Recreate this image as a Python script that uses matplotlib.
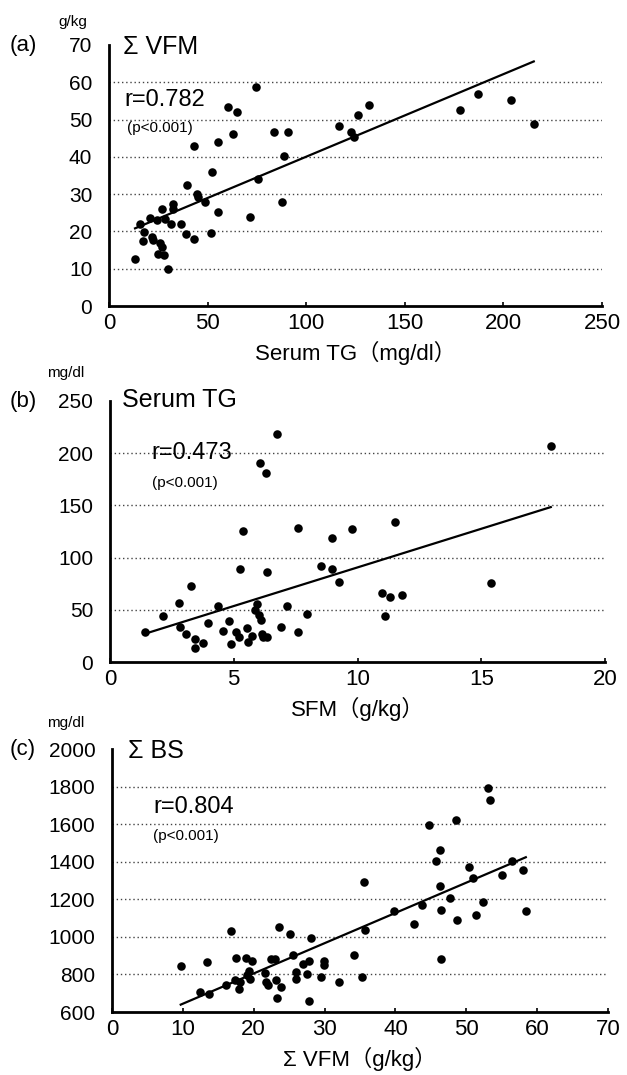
import numpy as np
import matplotlib.pyplot as plt

plt.rcParams['font.family'] = ['Liberation Sans', 'Noto Sans CJK JP', 'DejaVu Sans']

# (a) serum TG vs sum VFM
a_tg = [13.2, 15.7, 17.0, 17.7, 20.7, 21.7, 22.4, 24.2, 24.8, 25.8, 26.8, 26.8, 27.8, 28.3,
        29.9, 31.5, 32.3, 32.3, 36.4, 39.0, 39.6, 42.9, 43.0, 44.7, 45.2, 48.6, 51.6, 52.4,
        55.5, 55.5, 60.4, 62.8, 64.8, 71.5, 74.4, 75.4, 83.9, 87.6, 88.8, 90.7, 116.5,
        122.6, 124.2, 126.4, 131.9, 178.0, 187.0, 204.0, 215.4]
a_vfm = [12.5, 21.9, 17.5, 19.8, 23.7, 18.6, 17.7, 23.0, 14.0, 16.8, 26.0, 15.9, 13.6, 23.4,
         9.9, 22.1, 27.4, 26.0, 22.1, 19.2, 32.4, 42.8, 18.0, 30.0, 29.2, 27.8, 19.6, 35.9,
         25.3, 44.1, 53.5, 46.1, 51.9, 23.9, 58.7, 34.1, 46.7, 27.8, 40.1, 46.8, 48.2,
         46.8, 45.2, 51.3, 54.0, 52.6, 56.9, 55.2, 48.9]
a_fit = (0.2214, 17.9)

# (b) SFM vs serum TG
b_sfm = [1.42, 2.13, 2.80, 2.84, 3.08, 3.27, 3.42, 3.42, 3.76, 3.95, 4.37, 4.58, 4.82, 4.90,
         5.08, 5.23, 5.24, 5.37, 5.53, 5.56, 5.74, 5.85, 5.92, 6.03, 6.08, 6.10, 6.13, 6.19,
         6.29, 6.34, 6.35, 6.76, 6.92, 7.16, 7.60, 7.61, 7.97, 8.52, 8.97, 8.98, 9.27, 9.77,
         11.00, 11.13, 11.31, 11.53, 11.81, 15.39, 17.81]
b_tg = [29, 43.6, 56.4, 33.4, 26.4, 72.6, 22.3, 13.4, 17.8, 37.6, 53.2, 29.3, 39.5, 16.9,
        28.3, 23.6, 88.9, 125.2, 32.8, 18.8, 25.2, 50.0, 56.0, 44.9, 190.8, 40.1, 26.4, 24.2,
        181.2, 24.2, 86.3, 218.8, 33.8, 53.8, 128.3, 29.0, 45.5, 92.4, 119.1, 89.5, 76.8, 127.1,
        66.2, 43.6, 61.8, 134.4, 64.0, 75.8, 207.3]
b_fit = (7.40, 16.6)

# (c) sum VFM vs sum BS
c_vfm = [9.7, 12.4, 13.4, 13.7, 16.1, 16.8, 17.4, 17.5, 17.9, 18.0, 18.9, 19.1, 19.3, 19.5,
         19.7, 21.6, 21.7, 22.0, 22.4, 23.0, 23.1, 23.3, 23.5, 23.9, 25.1, 25.6, 25.9, 26.0,
         27.0, 27.5, 27.8, 27.8, 28.1, 29.5, 29.9, 29.9, 32.1, 34.1, 35.3, 35.6, 35.7, 39.8,
         42.6, 43.7, 44.7, 45.7, 46.3, 46.3, 46.4, 46.4, 47.7, 48.5, 48.7, 50.4, 50.9, 51.4,
         52.4, 53.0, 53.4, 55.1, 56.5, 58.0, 58.4]
c_bs = [846, 704, 864, 696, 743, 1030, 768, 885, 724, 758, 890, 795, 819, 775,
        873, 807, 759, 743, 883, 881, 772, 674, 1051, 731, 1014, 901, 811, 775,
        855, 804, 874, 657, 996, 786, 874, 848, 761, 901, 786, 1290, 1037, 1135,
        1067, 1172, 1595, 1405, 1462, 1271, 1143, 881, 1209, 1621, 1090, 1373, 1315, 1117,
        1188, 1795, 1731, 1329, 1405, 1356, 1136]
c_fit = (16.11, 483)

panels = [
    dict(x=a_tg, y=a_vfm, fit=a_fit, xlim=(0, 250), xticks=[0, 50, 100, 150, 200, 250],
         ylim=(0, 70), yticks=[0, 10, 20, 30, 40, 50, 60, 70],
         xlabel='Serum TG（mg/dl）', title='Σ VFM', unit='g/kg', tag='(a)', r='r=0.782',
         box=(109, 45, 602, 306), rpos=(124, 100, 127, 128), tpos=(123, 47), upos=(58, 22)),
    dict(x=b_sfm, y=b_tg, fit=b_fit, xlim=(0, 20), xticks=[0, 5, 10, 15, 20],
         ylim=(0, 250), yticks=[0, 50, 100, 150, 200, 250],
         xlabel='SFM（g/kg）', title='Serum TG', unit='mg/dl', tag='(b)', r='r=0.473',
         box=(110, 401, 605, 662), rpos=(151, 453, 152, 483), tpos=(122, 400), upos=(47, 373)),
    dict(x=c_vfm, y=c_bs, fit=c_fit, xlim=(0, 70), xticks=[0, 10, 20, 30, 40, 50, 60, 70],
         ylim=(600, 2000), yticks=[600, 800, 1000, 1200, 1400, 1600, 1800, 2000],
         xlabel='Σ VFM（g/kg）', title='Σ BS', unit='mg/dl', tag='(c)', r='r=0.804',
         box=(112, 749, 608, 1012), rpos=(153, 807, 153, 836), tpos=(128, 751), upos=(47, 723)),
]

W, H = 627, 1075
fig = plt.figure(figsize=(W / 100, H / 100), dpi=100)

for p in panels:
    l, t, r, b = p['box']
    ax = fig.add_axes([l / W, 1 - b / H, (r - l) / W, (b - t) / H])
    x = np.array(p['x'])
    y = np.array(p['y'])
    ax.scatter(x, y, s=38, color='black', zorder=3, linewidths=0)
    xs = np.array([x.min(), x.max()])
    ax.plot(xs, p['fit'][0] * xs + p['fit'][1], color='black', lw=1.6, zorder=4)

    ax.set_xlim(*p['xlim'])
    ax.set_ylim(*p['ylim'])
    ax.set_xticks(p['xticks'])
    ax.set_yticks(p['yticks'])
    ax.tick_params(axis='y', length=0, pad=12, labelsize=15)
    ax.tick_params(axis='x', direction='in', length=3, width=1.2, pad=5, labelsize=16)
    for s in ['top', 'right']:
        ax.spines[s].set_visible(False)
    for s in ['left', 'bottom']:
        ax.spines[s].set_linewidth(2)
    ax.yaxis.grid(True, linestyle=(0, (1, 2)), color='#444444', lw=1)
    gl = ax.get_ygridlines()
    gl[0].set_visible(False)
    gl[-1].set_visible(False)
    ax.set_axisbelow(True)
    ax.set_xlabel(p['xlabel'], fontsize=16, labelpad=5)

    fig.text(10 / W, 1 - p['box'][1] / H, p['tag'], fontsize=16, va='center', ha='left')
    fig.text(p['upos'][0] / W, 1 - p['upos'][1] / H, p['unit'], fontsize=11, va='center', ha='left')
    fig.text(p['tpos'][0] / W, 1 - p['tpos'][1] / H, p['title'], fontsize=18, va='center', ha='left')
    fig.text(p['rpos'][0] / W, 1 - p['rpos'][1] / H, p['r'], fontsize=17, va='center', ha='left')
    fig.text(p['rpos'][2] / W, 1 - p['rpos'][3] / H, '(p<0.001)', fontsize=11, va='center', ha='left')

fig.savefig('out.png', dpi=100)
